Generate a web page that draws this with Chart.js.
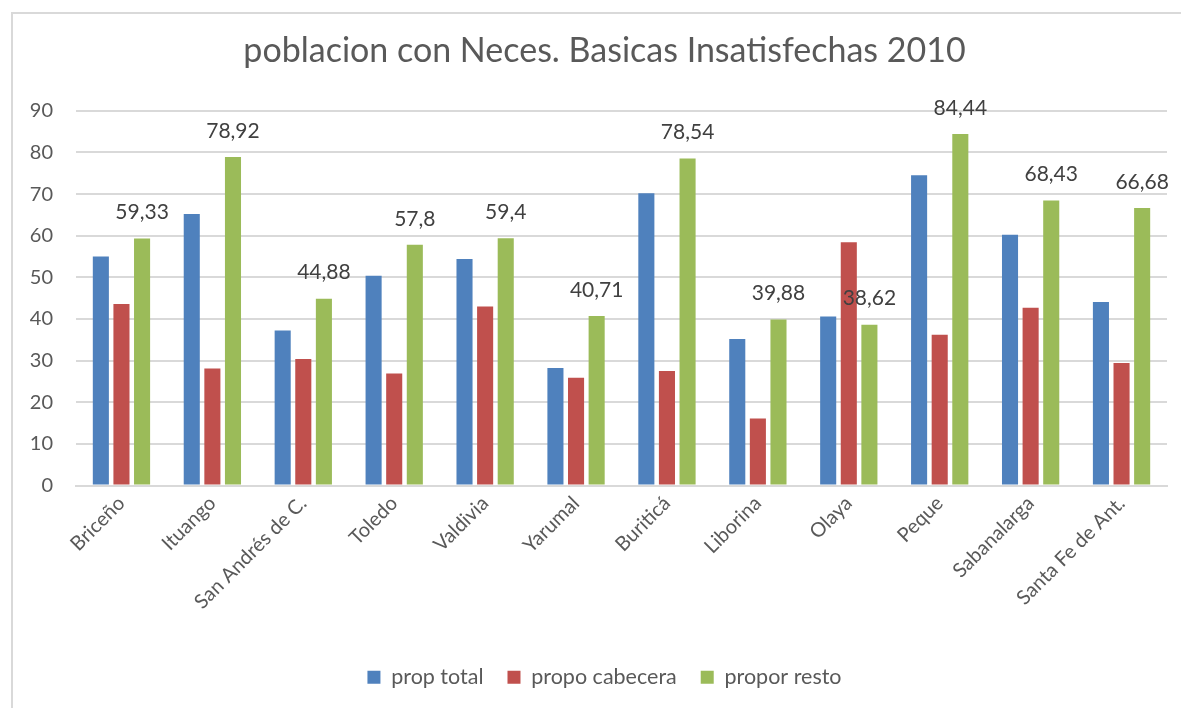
<!DOCTYPE html>
<html>
<head>
<meta charset="utf-8">
<script src="https://cdn.jsdelivr.net/npm/chart.js@4"></script>
<style>
  html, body { margin: 0; padding: 0; background: #fff; }
  #wrap { position: relative; width: 1181px; height: 708px; overflow: hidden; }
  #frame { position: absolute; left: 11px; top: 12px; width: 1200px; height: 720px;
           border-left: 2px solid #d9d9d9; border-top: 2px solid #d9d9d9; box-sizing: border-box; }
  canvas { position: absolute; left: 0; top: 0; }
</style>
</head>
<body>
<div id="wrap">
  <div id="frame"></div>
  <canvas id="chart" width="1209" height="708"></canvas>
</div>
<script>
const municipios = ['Briceño', 'Ituango', 'San Andrés de C.', 'Toledo', 'Valdivia', 'Yarumal',
                    'Buriticá', 'Liborina', 'Olaya', 'Peque', 'Sabanalarga', 'Santa Fe de Ant.'];
const propTotal = [55.0, 65.2, 37.2, 50.4, 54.4, 28.2, 70.2, 35.2, 40.6, 74.5, 60.2, 44.1];
const propoCabecera = [43.6, 28.1, 30.4, 26.9, 43.0, 25.9, 27.5, 16.1, 58.4, 36.2, 42.7, 29.4];
const proporResto = [59.33, 78.92, 44.88, 57.8, 59.4, 40.71, 78.54, 39.88, 38.62, 84.44, 68.43, 66.68];
const yTicks = [0, 10, 20, 30, 40, 50, 60, 70, 80, 90];

const FONT = 'Lato, "Open Sans", sans-serif';
const GRIS = '#595959';

// etiquetas de valor solo para la serie "propor resto"
const etiquetas = {
    id: 'etiquetas',
    afterDatasetsDraw(chart) {
        const ctx = chart.ctx;
        const meta = chart.getDatasetMeta(2);
        ctx.save();
        ctx.font = '21px ' + FONT;
        ctx.fillStyle = '#404040';
        ctx.textAlign = 'center';
        ctx.textBaseline = 'middle';
        meta.data.forEach((bar, i) => {
            const txt = String(proporResto[i]).replace('.', ',');
            ctx.fillText(txt, bar.x, bar.y - 26);
        });
        ctx.restore();
    }
};

const ctx = document.getElementById('chart').getContext('2d');
new Chart(ctx, {
    type: 'bar',
    data: {
        labels: municipios,
        datasets: [
            { label: 'prop total', data: propTotal, backgroundColor: '#4f81bd' },
            { label: 'propo cabecera', data: propoCabecera, backgroundColor: '#c0504d' },
            { label: 'propor resto', data: proporResto, backgroundColor: '#9bbb59' }
        ]
    },
    options: {
        responsive: false,
        animation: false,
        devicePixelRatio: 1,
        layout: { padding: { left: 0, right: 0, top: 0, bottom: 10 } },
        datasets: { bar: { barPercentage: 0.78, categoryPercentage: 0.68 } },
        scales: {
            x: {
                grid: { display: false, drawTicks: false },
                border: { display: true, color: '#d9d9d9', width: 2 },
                ticks: { color: GRIS, font: { family: FONT, size: 20 }, minRotation: 45, maxRotation: 45, padding: 6, autoSkip: false },
                afterFit(s) { s.height = 157; }
            },
            y: {
                min: 0, max: 90,
                afterBuildTicks(s) { s.ticks = yTicks.map(v => ({ value: v })); },
                grid: { color: '#d9d9d9', lineWidth: 2, drawTicks: false },
                border: { display: false },
                ticks: { color: GRIS, font: { family: FONT, size: 20 }, padding: 23 },
                afterFit(s) { s.width = 76; }
            },
            // eje vacio a la derecha: solo reserva espacio para que titulo y leyenda queden centrados como en el original
            derecha: {
                type: 'linear',
                position: 'right',
                grid: { display: false, drawTicks: false },
                border: { display: false },
                ticks: { display: false },
                afterFit(s) { s.width = 42; }
            }
        },
        plugins: {
            title: {
                display: true,
                text: 'poblacion con Neces. Basicas Insatisfechas 2010',
                color: GRIS,
                font: { family: FONT, size: 34, weight: 'normal' },
                padding: { top: 31, bottom: 39 }
            },
            legend: {
                position: 'bottom',
                labels: { color: GRIS, font: { family: FONT, size: 21.5 }, boxWidth: 13, boxHeight: 13, padding: 24 }
            },
            tooltip: { enabled: false }
        }
    },
    plugins: [etiquetas]
});
</script>
</body>
</html>
